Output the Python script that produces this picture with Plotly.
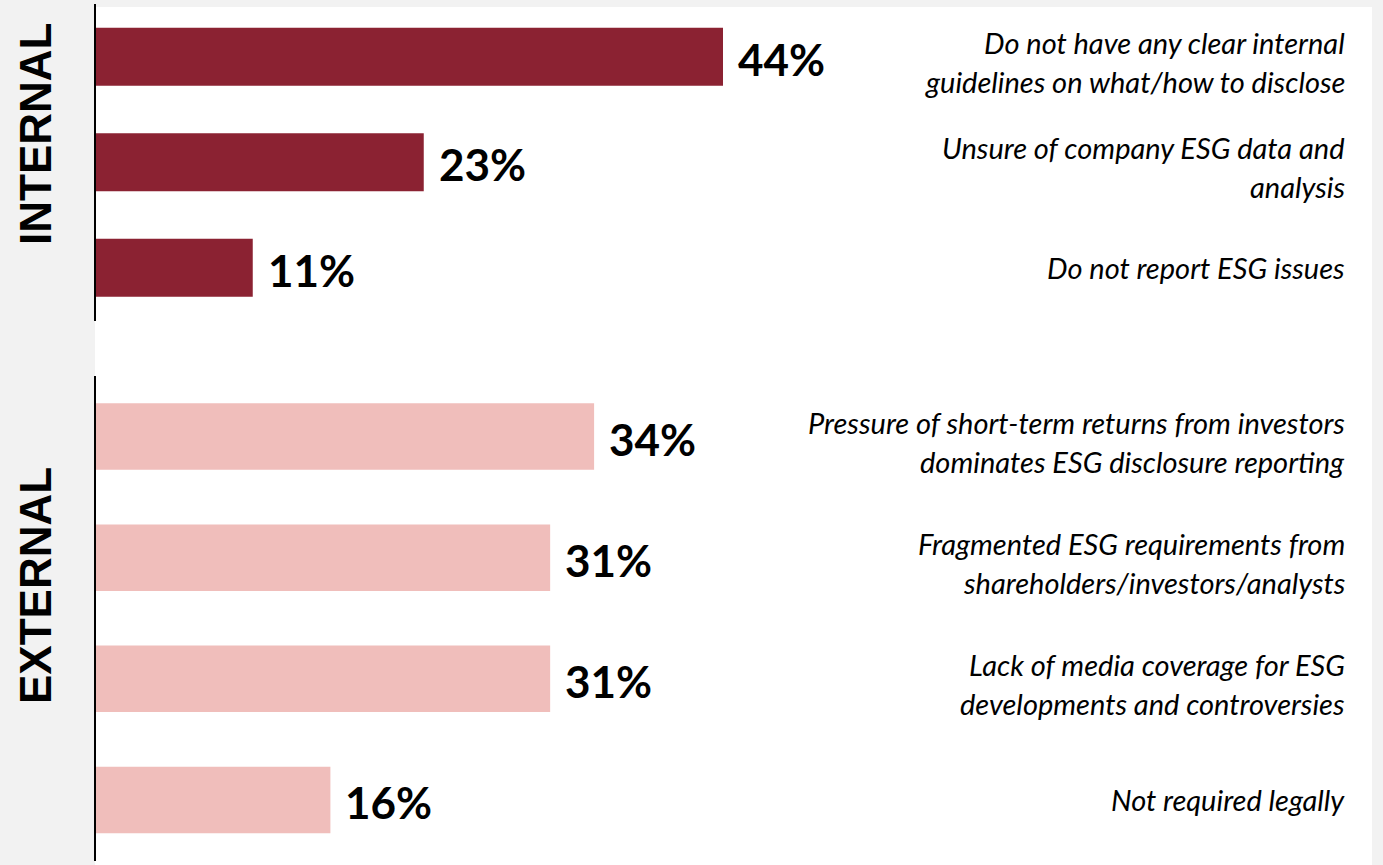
import plotly.graph_objects as go

# ---- data ----
internal_labels = [
    "Do not have any clear internal<br>guidelines on what/how to disclose",
    "Unsure of company ESG data and<br>analysis",
    "Do not report ESG issues",
]
internal_values = [44, 23, 11]

external_labels = [
    "Pressure of short-term returns from investors<br>dominates ESG disclosure reporting",
    "Fragmented ESG requirements from<br>shareholders/investors/analysts",
    "Lack of media coverage for ESG<br>developments and controversies",
    "Not required legally",
]
external_values = [34, 31, 31, 16]

group_titles = ["INTERNAL", "EXTERNAL"]

# ---- style ----
W, H = 1383, 865
BG = "#f2f2f2"
DARK = "#8b2232"
PINK = "#f0bebb"
X0 = 96
XR = 1372

fig = go.Figure()

fig.add_trace(go.Bar(
    x=internal_values, y=internal_labels, orientation="h",
    marker=dict(color=DARK, line=dict(width=0)), width=0.55,
    xaxis="x", yaxis="y", hoverinfo="skip", showlegend=False,
))
fig.add_trace(go.Bar(
    x=external_values, y=external_labels, orientation="h",
    marker=dict(color=PINK, line=dict(width=0)), width=0.55,
    xaxis="x2", yaxis="y2", hoverinfo="skip", showlegend=False,
))

annotations = []
pct_font = dict(family="Lato", size=44, color="#000000", weight="bold")
desc_font = dict(family="Lato", size=29, color="#000000", style="italic")
LINE = 39

for labels, values, xa, ya in [(internal_labels, internal_values, "x", "y"),
                               (external_labels, external_values, "x2", "y2")]:
    for lab, v in zip(labels, values):
        annotations.append(dict(
            x=v, y=lab, xref=xa, yref=ya, text=f"{v}%", showarrow=False,
            xanchor="left", yanchor="middle", xshift=13, yshift=-2, font=pct_font,
        ))
        lines = lab.split("<br>")
        n = len(lines)
        off = -5 if n > 1 else 0
        for i, ln in enumerate(lines):
            annotations.append(dict(
                x=1347 / W, y=lab, xref="paper", yref=ya, text=ln, showarrow=False,
                xanchor="right", yanchor="middle", align="right",
                yshift=((n - 1) / 2 - i) * LINE + off, font=desc_font,
            ))

title_font = dict(family="Liberation Sans", size=44, color="#000000", weight="bold")
annotations.append(dict(x=35 / W, y=1 - 134 / H, xref="paper", yref="paper",
                        text=group_titles[0], textangle=-90, showarrow=False,
                        xanchor="center", yanchor="middle", font=title_font))
annotations.append(dict(x=35 / W, y=1 - 586 / H, xref="paper", yref="paper",
                        text=group_titles[1], textangle=-90, showarrow=False,
                        xanchor="center", yanchor="middle", font=title_font))

shapes = [dict(type="rect", xref="paper", yref="paper",
               x0=95 / W, x1=XR / W, y0=0, y1=1 - 7 / H,
               fillcolor="white", line=dict(width=0), layer="below")]

xdom = [X0 / W, XR / W]
fig.update_layout(
    width=W, height=H, margin=dict(l=0, r=0, t=0, b=0),
    paper_bgcolor=BG, plot_bgcolor="rgba(0,0,0,0)",
    xaxis=dict(domain=xdom, range=[0, (XR - X0) / 14.25], visible=False, fixedrange=True),
    xaxis2=dict(domain=xdom, range=[0, (XR - X0) / 14.65], visible=False, fixedrange=True, anchor="y2"),
    yaxis=dict(domain=[1 - 320.5 / H, 1 - 4 / H], type="category",
               categoryorder="array", categoryarray=internal_labels,
               range=[2.5, -0.5], showticklabels=False, ticks="",
               showline=True, linecolor="#000000", linewidth=2, showgrid=False,
               zeroline=False, anchor="x"),
    yaxis2=dict(domain=[1 - 860.5 / H, 1 - 376 / H], type="category",
                categoryorder="array", categoryarray=external_labels,
                range=[3.5, -0.5], showticklabels=False, ticks="",
                showline=True, linecolor="#000000", linewidth=2, showgrid=False,
                zeroline=False, anchor="x2"),
    annotations=annotations, shapes=shapes, bargap=0.45,
)

fig.write_html("out.html")
